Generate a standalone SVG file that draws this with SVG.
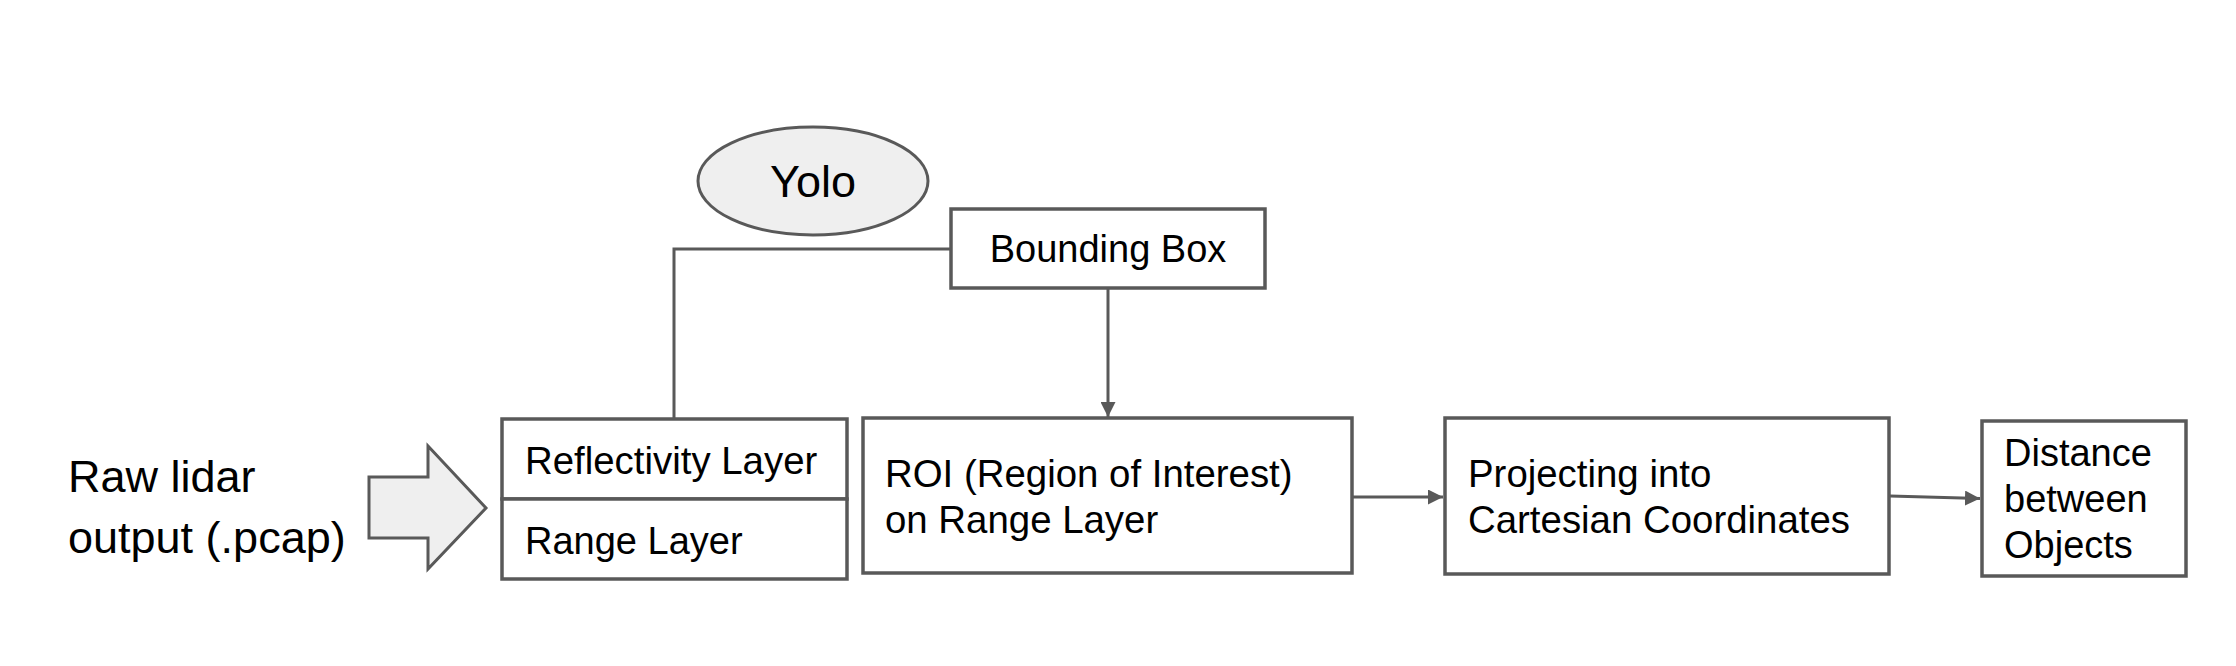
<svg xmlns="http://www.w3.org/2000/svg" width="2236" height="666" viewBox="0 0 2236 666">
<defs>
<style>
.box{fill:#ffffff;stroke:#595959;stroke-width:3.5}
.shape{fill:#efefef;stroke:#595959;stroke-width:3}
.t{font-family:"Liberation Sans",Arial,sans-serif;fill:#000000}
.c{fill:none;stroke:#595959;stroke-width:3}
</style>
<marker id="ah" viewBox="0 0 10 10" refX="10" refY="5" markerWidth="5" markerHeight="5" orient="auto" markerUnits="strokeWidth">
<path d="M0,0 L10,5 L0,10 z" fill="#595959"/>
</marker>
</defs>
<rect width="2236" height="666" fill="#ffffff"/>
<g id="connectors">
<polyline class="c" points="951,249 674,249 674,419"/>
<line class="c" x1="1108" y1="288" x2="1108" y2="417" marker-end="url(#ah)"/>
<line class="c" x1="1352" y1="497" x2="1443" y2="497" marker-end="url(#ah)"/>
<line class="c" x1="1890" y1="496" x2="1980" y2="498.5" marker-end="url(#ah)"/>
</g>
<g id="raw-lidar">
<text class="t" font-size="45" x="68" y="492">Raw lidar</text>
<text class="t" font-size="45" x="68" y="553">output (.pcap)</text>
</g>
<g id="block-arrow">
<polygon class="shape" points="369,477 428,477 428,446 486,508 428,569 428,538 369,538"/>
</g>
<g id="yolo">
<ellipse class="shape" cx="813" cy="181" rx="115" ry="54"/>
<text class="t" font-size="45" x="813" y="197" text-anchor="middle">Yolo</text>
</g>
<g id="bounding-box">
<rect class="box" x="951" y="209" width="314" height="79"/>
<text class="t" font-size="38" x="1108" y="262" text-anchor="middle">Bounding Box</text>
</g>
<g id="reflectivity-layer">
<rect class="box" x="502" y="419" width="345" height="80"/>
<text class="t" font-size="38.4" x="525" y="474">Reflectivity Layer</text>
</g>
<g id="range-layer">
<rect class="box" x="502" y="499" width="345" height="80"/>
<text class="t" font-size="38" x="525" y="554">Range Layer</text>
</g>
<g id="roi">
<rect class="box" x="863" y="418" width="489" height="155"/>
<text class="t" font-size="38.4" x="885" y="487">ROI (Region of Interest)</text>
<text class="t" font-size="38.4" x="885" y="533">on Range Layer</text>
</g>
<g id="projecting">
<rect class="box" x="1445" y="418" width="444" height="156"/>
<text class="t" font-size="38.4" x="1468" y="487">Projecting into</text>
<text class="t" font-size="38.4" x="1468" y="533">Cartesian Coordinates</text>
</g>
<g id="distance">
<rect class="box" x="1982" y="421" width="204" height="155"/>
<text class="t" font-size="38" x="2004" y="466">Distance</text>
<text class="t" font-size="38" x="2004" y="512">between</text>
<text class="t" font-size="38" x="2004" y="558">Objects</text>
</g>
</svg>
